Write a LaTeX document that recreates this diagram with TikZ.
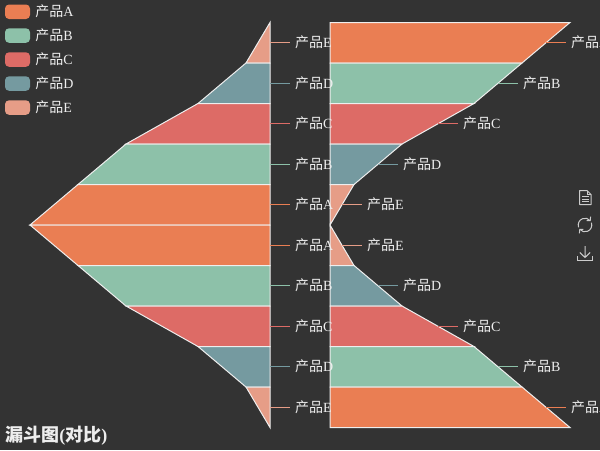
\documentclass[tikz,border=0pt]{standalone}
\usepackage{fontspec}
\setmainfont{Liberation Serif}
\newfontfamily\cjk{Noto Sans CJK SC}
\newfontfamily\cjkb{Noto Sans CJK SC Bold}
\definecolor{bgc}{HTML}{333333}
\definecolor{ca}{HTML}{EA7E53}
\definecolor{cb}{HTML}{8DC1A9}
\definecolor{cc}{HTML}{DD6B66}
\definecolor{cd}{HTML}{759AA0}
\definecolor{ce}{HTML}{E69D87}
\definecolor{ink}{HTML}{EEEEEE}
\definecolor{tool}{HTML}{CCCCCC}
\newcommand{\pin}[1]{{\cjk 产品}#1}
\tikzset{
  seg/.style={fill=#1,draw=ink,line width=0.75pt,line join=miter},
  lab/.style={text=ink,font=\fontsize{10.5pt}{12pt}\selectfont,anchor=west,inner xsep=3.75pt,inner ysep=0pt,outer sep=0pt},
  lead/.style={draw=#1,line width=0.75pt},
  key/.style={fill=#1,draw=none,rounded corners=3pt},
  legtxt/.style={text=ink,font=\fontsize{10.5pt}{12pt}\selectfont,anchor=west,inner sep=0pt},
  ttl/.style={text=ink,font=\fontsize{13.5pt}{16pt}\selectfont\bfseries,anchor=base west,inner sep=0pt},
  icon/.style={draw=tool,line width=0.75pt,fill=none},
}
\begin{document}
\begin{tikzpicture}[x=0.75pt,y=-0.75pt]
\useasboundingbox (0,0) rectangle (600,450);
\fill[bgc] (0,0) rectangle (600,450);
\clip (0,0) rectangle (600,450);
% left funnel
\path[seg=ce] (270,22.5) -- (270,63) -- (246,63) -- cycle;
\path[seg=cd] (246,63) -- (270,63) -- (270,103.5) -- (198,103.5) -- cycle;
\path[seg=cc] (198,103.5) -- (270,103.5) -- (270,144) -- (126,144) -- cycle;
\path[seg=cb] (126,144) -- (270,144) -- (270,184.5) -- (78,184.5) -- cycle;
\path[seg=ca] (78,184.5) -- (270,184.5) -- (270,225) -- (30,225) -- cycle;
\path[seg=ca] (30,225) -- (270,225) -- (270,265.5) -- (78,265.5) -- cycle;
\path[seg=cb] (78,265.5) -- (270,265.5) -- (270,306) -- (126,306) -- cycle;
\path[seg=cc] (126,306) -- (270,306) -- (270,346.5) -- (198,346.5) -- cycle;
\path[seg=cd] (198,346.5) -- (270,346.5) -- (270,387) -- (246,387) -- cycle;
\path[seg=ce] (246,387) -- (270,387) -- (270,427.5) -- cycle;
% right funnel
\path[seg=ca] (330,22.5) -- (570,22.5) -- (522,63) -- (330,63) -- cycle;
\path[seg=cb] (330,63) -- (522,63) -- (474,103.5) -- (330,103.5) -- cycle;
\path[seg=cc] (330,103.5) -- (474,103.5) -- (402,144) -- (330,144) -- cycle;
\path[seg=cd] (330,144) -- (402,144) -- (354,184.5) -- (330,184.5) -- cycle;
\path[seg=ce] (330,184.5) -- (354,184.5) -- (330,225) -- cycle;
\path[seg=ce] (330,225) -- (354,265.5) -- (330,265.5) -- cycle;
\path[seg=cd] (330,265.5) -- (354,265.5) -- (402,306) -- (330,306) -- cycle;
\path[seg=cc] (330,306) -- (402,306) -- (474,346.5) -- (330,346.5) -- cycle;
\path[seg=cb] (330,346.5) -- (474,346.5) -- (522,387) -- (330,387) -- cycle;
\path[seg=ca] (330,387) -- (522,387) -- (570,427.5) -- (330,427.5) -- cycle;
% labels and leader lines: colour, name, start x, y, letter
\foreach \cc/\nn/\sx/\yy/\tt in {
  ce/l1/270/42.5/E, cd/l2/270/83.5/D, cc/l3/270/123.5/C, cb/l4/270/164.5/B, ca/l5/270/204.5/A,
  ca/l6/270/245.5/A, cb/l7/270/285.5/B, cc/l8/270/326.5/C, cd/l9/270/366.5/D, ce/l10/270/407.5/E,
  ca/r1/546/42.5/A, cb/r2/498/83.5/B, cc/r3/438/123.5/C, cd/r4/378/164.5/D, ce/r5/342/204.5/E,
  ce/r6/342/245.5/E, cd/r7/378/285.5/D, cc/r8/438/326.5/C, cb/r9/498/366.5/B, ca/r10/546/407.5/A}{
  \coordinate (s\nn) at (\sx,\yy);
  \node[lab] (\nn) at (\sx+20,\yy) {\raisebox{0.5pt}{\pin{\tt}}};
  \draw[lead=\cc] (s\nn) -- (\nn.west);
}
% legend
\foreach \cc/\nn/\yy/\tt in {ca/a/12/A, cb/b/35.8/B, cc/c/59.8/C, cd/d/83.8/D, ce/e/107.8/E}{
  \fill[key=\cc] (5,\yy-7.5) rectangle (30,\yy+7);
  \node[legtxt] (leg\nn) at (35,\yy-0.4) {\pin{\tt}};
}
% title
\node[ttl] (title) at (5,441.5) {{\cjkb 漏斗图}({\cjkb 对比})};
% toolbox: data view
\draw[icon,line join=round] (579.5,190.5) -- (587,190.5) -- (591,194.5) -- (591,204.5) -- (579.5,204.5) -- cycle;
\draw[icon] (587,190.5) -- (587,194.5) -- (591,194.5);
\draw[icon] (582,196.5) -- (588.5,196.5) (582,199) -- (588.5,199) (582,201.5) -- (588.5,201.5);
% toolbox: restore
\draw[icon] (578.61,227.33) arc[start angle=200,end angle=40,radius=5.1pt];
\draw[icon] (591.39,222.67) arc[start angle=20,end angle=-140,radius=5.1pt];
\draw[icon] (586.6,220.6) -- (590.2,220.6) -- (590.6,216.6) (583.4,229.4) -- (579.8,229.4) -- (579.4,233.4);
% toolbox: download
\draw[icon] (585,246) -- (585,257.5) (579.8,252.5) -- (585,257.5) -- (590.2,252.5);
\draw[icon] (577.8,256) -- (577.8,260.5) -- (592.2,260.5) -- (592.2,256);
\end{tikzpicture}
\end{document}
